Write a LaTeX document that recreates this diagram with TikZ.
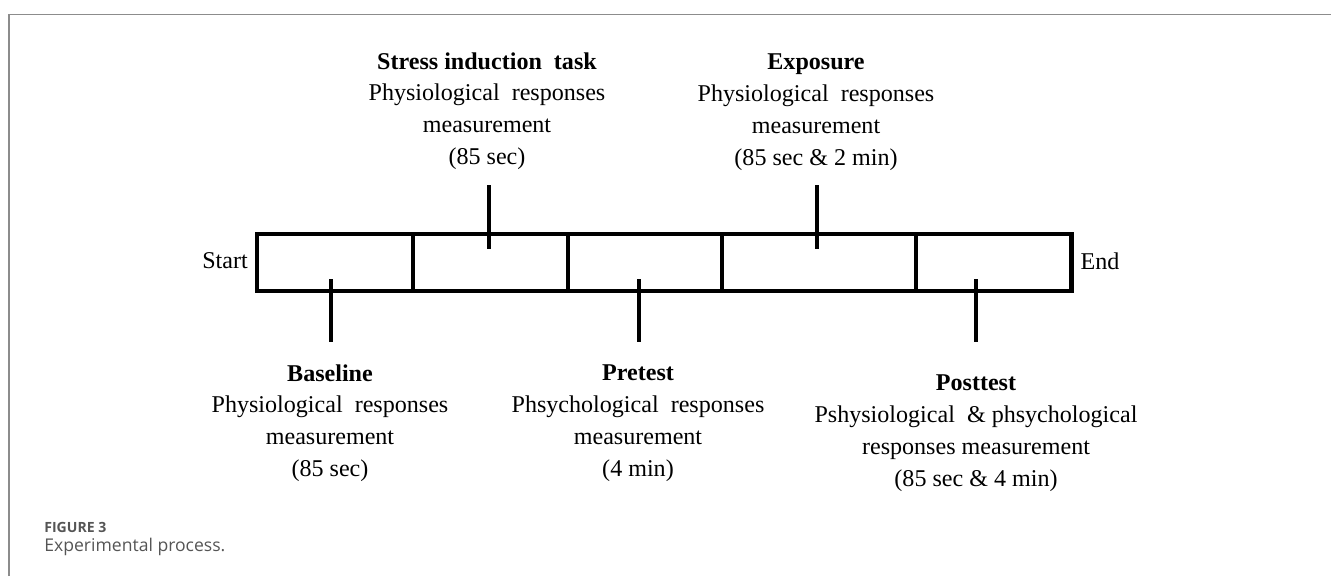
\documentclass[tikz,border=0pt]{standalone}
\usepackage{fontspec}
\setmainfont{Liberation Serif}
\newfontfamily\capfont{Open Sans}
\usetikzlibrary{positioning}
\definecolor{framegray}{HTML}{8C8C8C}
\definecolor{capgray}{HTML}{555555}
\begin{document}
\begin{tikzpicture}[
  x=0.02cm, y=-0.02cm,
  cell/.style={draw, line width=2.7pt, minimum height=1.14cm, inner sep=0pt, outer sep=0pt},
  lbl/.style={align=center, inner sep=0pt, font=\fontsize{13.7}{18.1}\selectfont},
  tick/.style={line width=2.4pt}
]
\useasboundingbox (0,0) rectangle (1331,576);
% open frame round the figure
\draw[framegray, line width=0.9pt] (9,576) -- (9,14.5) -- (1331,14.5);

% the five stages of the timeline
\node[cell, minimum width=3.12cm] (c1) at (335,262.5) {};
\node[cell, minimum width=3.10cm, right=0pt of c1] (c2) {};
\node[cell, minimum width=3.08cm, right=0pt of c2] (c3) {};
\node[cell, minimum width=3.88cm, right=0pt of c3] (c4) {};
\node[cell, minimum width=3.12cm, right=0pt of c4] (c5) {};

\node[lbl] (start) at (225,261) {Start};
\node[lbl] (finish) at (1100,261) {End};

% labels above
\node[lbl] (stress) at (487,111) {\textbf{Stress induction\ \ task}\\Physiological\ \ responses\\measurement\\(85 sec)};
\node[lbl] (exposure) at (816,112) {\textbf{Exposure}\\Physiological\ \ responses\\measurement\\(85 sec \& 2 min)};

% labels below
\node[lbl] (baseline) at (330,423) {\textbf{Baseline}\\Physiological\ \ responses\\measurement\\(85 sec)};
\node[lbl] (pretest) at (638,423) {\textbf{Pretest}\\Phsychological\ \ responses\\measurement\\(4 min)};
\node[lbl] (posttest) at (976,433) {\textbf{Posttest}\\Pshysiological\ \ \& phsychological\\responses measurement\\(85 sec \& 4 min)};

% tick marks
\coordinate (stressA) at (489,185);
\coordinate (stressB) at (489,249);
\coordinate (exposureA) at (817,185);
\coordinate (exposureB) at (817,249);
\coordinate (baselineA) at (331,279);
\coordinate (baselineB) at (331,342);
\coordinate (pretestA) at (639,279);
\coordinate (pretestB) at (639,342);
\coordinate (posttestA) at (976,279);
\coordinate (posttestB) at (976,342);

\draw[tick] (stressA)--(stressB);
\draw[tick] (exposureA)--(exposureB);
\draw[tick] (baselineA)--(baselineB);
\draw[tick] (pretestA)--(pretestB);
\draw[tick] (posttestA)--(posttestB);

% caption
\node[anchor=west, inner sep=0pt, text=capgray, font=\capfont\fontsize{8}{10}\selectfont\bfseries] (fignum) at (44,527) {FIGURE 3};
\node[anchor=west, inner sep=0pt, text=capgray, font=\capfont\fontsize{10}{12}\selectfont] (figcap) at (44,547) {Experimental process.};

\end{tikzpicture}
\end{document}
